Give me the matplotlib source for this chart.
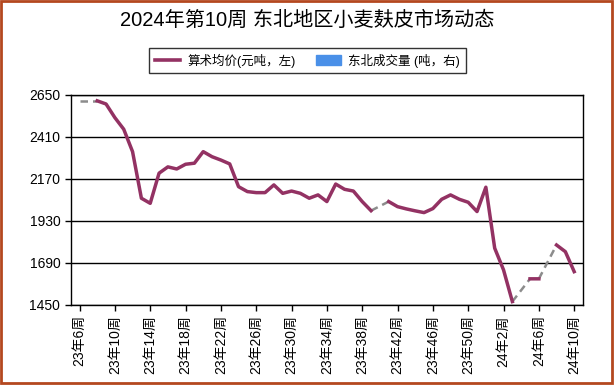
import numpy as np
import matplotlib
matplotlib.use("Agg")
import matplotlib.pyplot as plt
from matplotlib.lines import Line2D
from matplotlib.patches import Patch, Rectangle

plt.rcParams["font.family"] = ["Liberation Sans", "Noto Sans CJK SC"]

# weekly categories: 23年6周 ... 24年10周
weeks = [f"23年{w}周" for w in range(6, 53)] + [f"24年{w}周" for w in range(1, 11)]

# 算术均价 (元/吨), None = no quote that week
price = [
    2615, None, 2615, 2597, 2519, 2453, 2325, 2059, 2030, 2202,
    2238, 2226, 2253, 2259, 2325, 2296, 2277, 2255, 2125, 2097,
    2091, 2091, 2135, 2087, 2100, 2087, 2059, 2078, 2040, 2140,
    2110, 2100, 2040, 1988, None, 2040, 2011, 1998, 1987, 1977,
    2000, 2053, 2078, 2053, 2036, 1983, 2122, 1774, 1650, 1469,
    None, 1599, 1599, None, 1792, 1754, 1640,
]

y_ticks = [1450, 1690, 1930, 2170, 2410, 2650]
tick_step = 4

LINE_C = "#933263"
VOL_C = "#4a90e8"
GAP_C = "#8c8c8c"

fig = plt.figure(figsize=(6.15, 3.85), dpi=100)
ax = fig.add_axes([0.115, 0.208, 0.833, 0.546])

x = np.arange(len(weeks))
y = np.array([np.nan if v is None else v for v in price], dtype=float)

# dashed connectors across missing weeks
valid = [i for i, v in enumerate(price) if v is not None]
for a, b in zip(valid[:-1], valid[1:]):
    if b - a > 1:
        ax.plot([a, b], [price[a], price[b]], color=GAP_C, lw=1.8,
                ls=(0, (3, 2)), zorder=3)

ax.plot(x, y, color=LINE_C, lw=2.5, solid_joinstyle="round", zorder=4)

ax.set_xlim(-1, len(weeks))
ax.set_ylim(y_ticks[0], y_ticks[-1])
ax.set_yticks(y_ticks)
ax.set_yticklabels([str(t) for t in y_ticks], fontsize=10)
ax.yaxis.grid(True, color="black", lw=1.0)
ax.set_axisbelow(True)

xt = x[::tick_step]
ax.set_xticks(xt)
ax.set_xticklabels([weeks[i] for i in xt], rotation=90, fontsize=10)
ax.tick_params(axis="both", length=4, width=1, color="black")
for s in ax.spines.values():
    s.set_color("black")
    s.set_linewidth(1.0)

fig.suptitle("2024年第10周 东北地区小麦麸皮市场动态", x=0.5, y=0.972,
             fontsize=14.5)

handles = [Line2D([0], [0], color=LINE_C, lw=2.6),
           Patch(facecolor=VOL_C, edgecolor=VOL_C)]
leg = fig.legend(handles, ["算术均价(元吨，左)", "东北成交量 (吨，右)"],
                 loc="center", bbox_to_anchor=(0.5, 0.843), ncol=2,
                 fontsize=9, frameon=True, fancybox=False,
                 handlelength=2.0, handleheight=0.9, columnspacing=1.6,
                 borderpad=0.45, handletextpad=0.6)
leg.get_frame().set_edgecolor("black")
leg.get_frame().set_linewidth(1.0)

# outer frame
fig.patches.append(Rectangle((0.002, 0.004), 0.993, 0.994, transform=fig.transFigure,
                             fill=False, edgecolor="#b4481f", lw=2.0))

fig.savefig("out.png", dpi=100)
